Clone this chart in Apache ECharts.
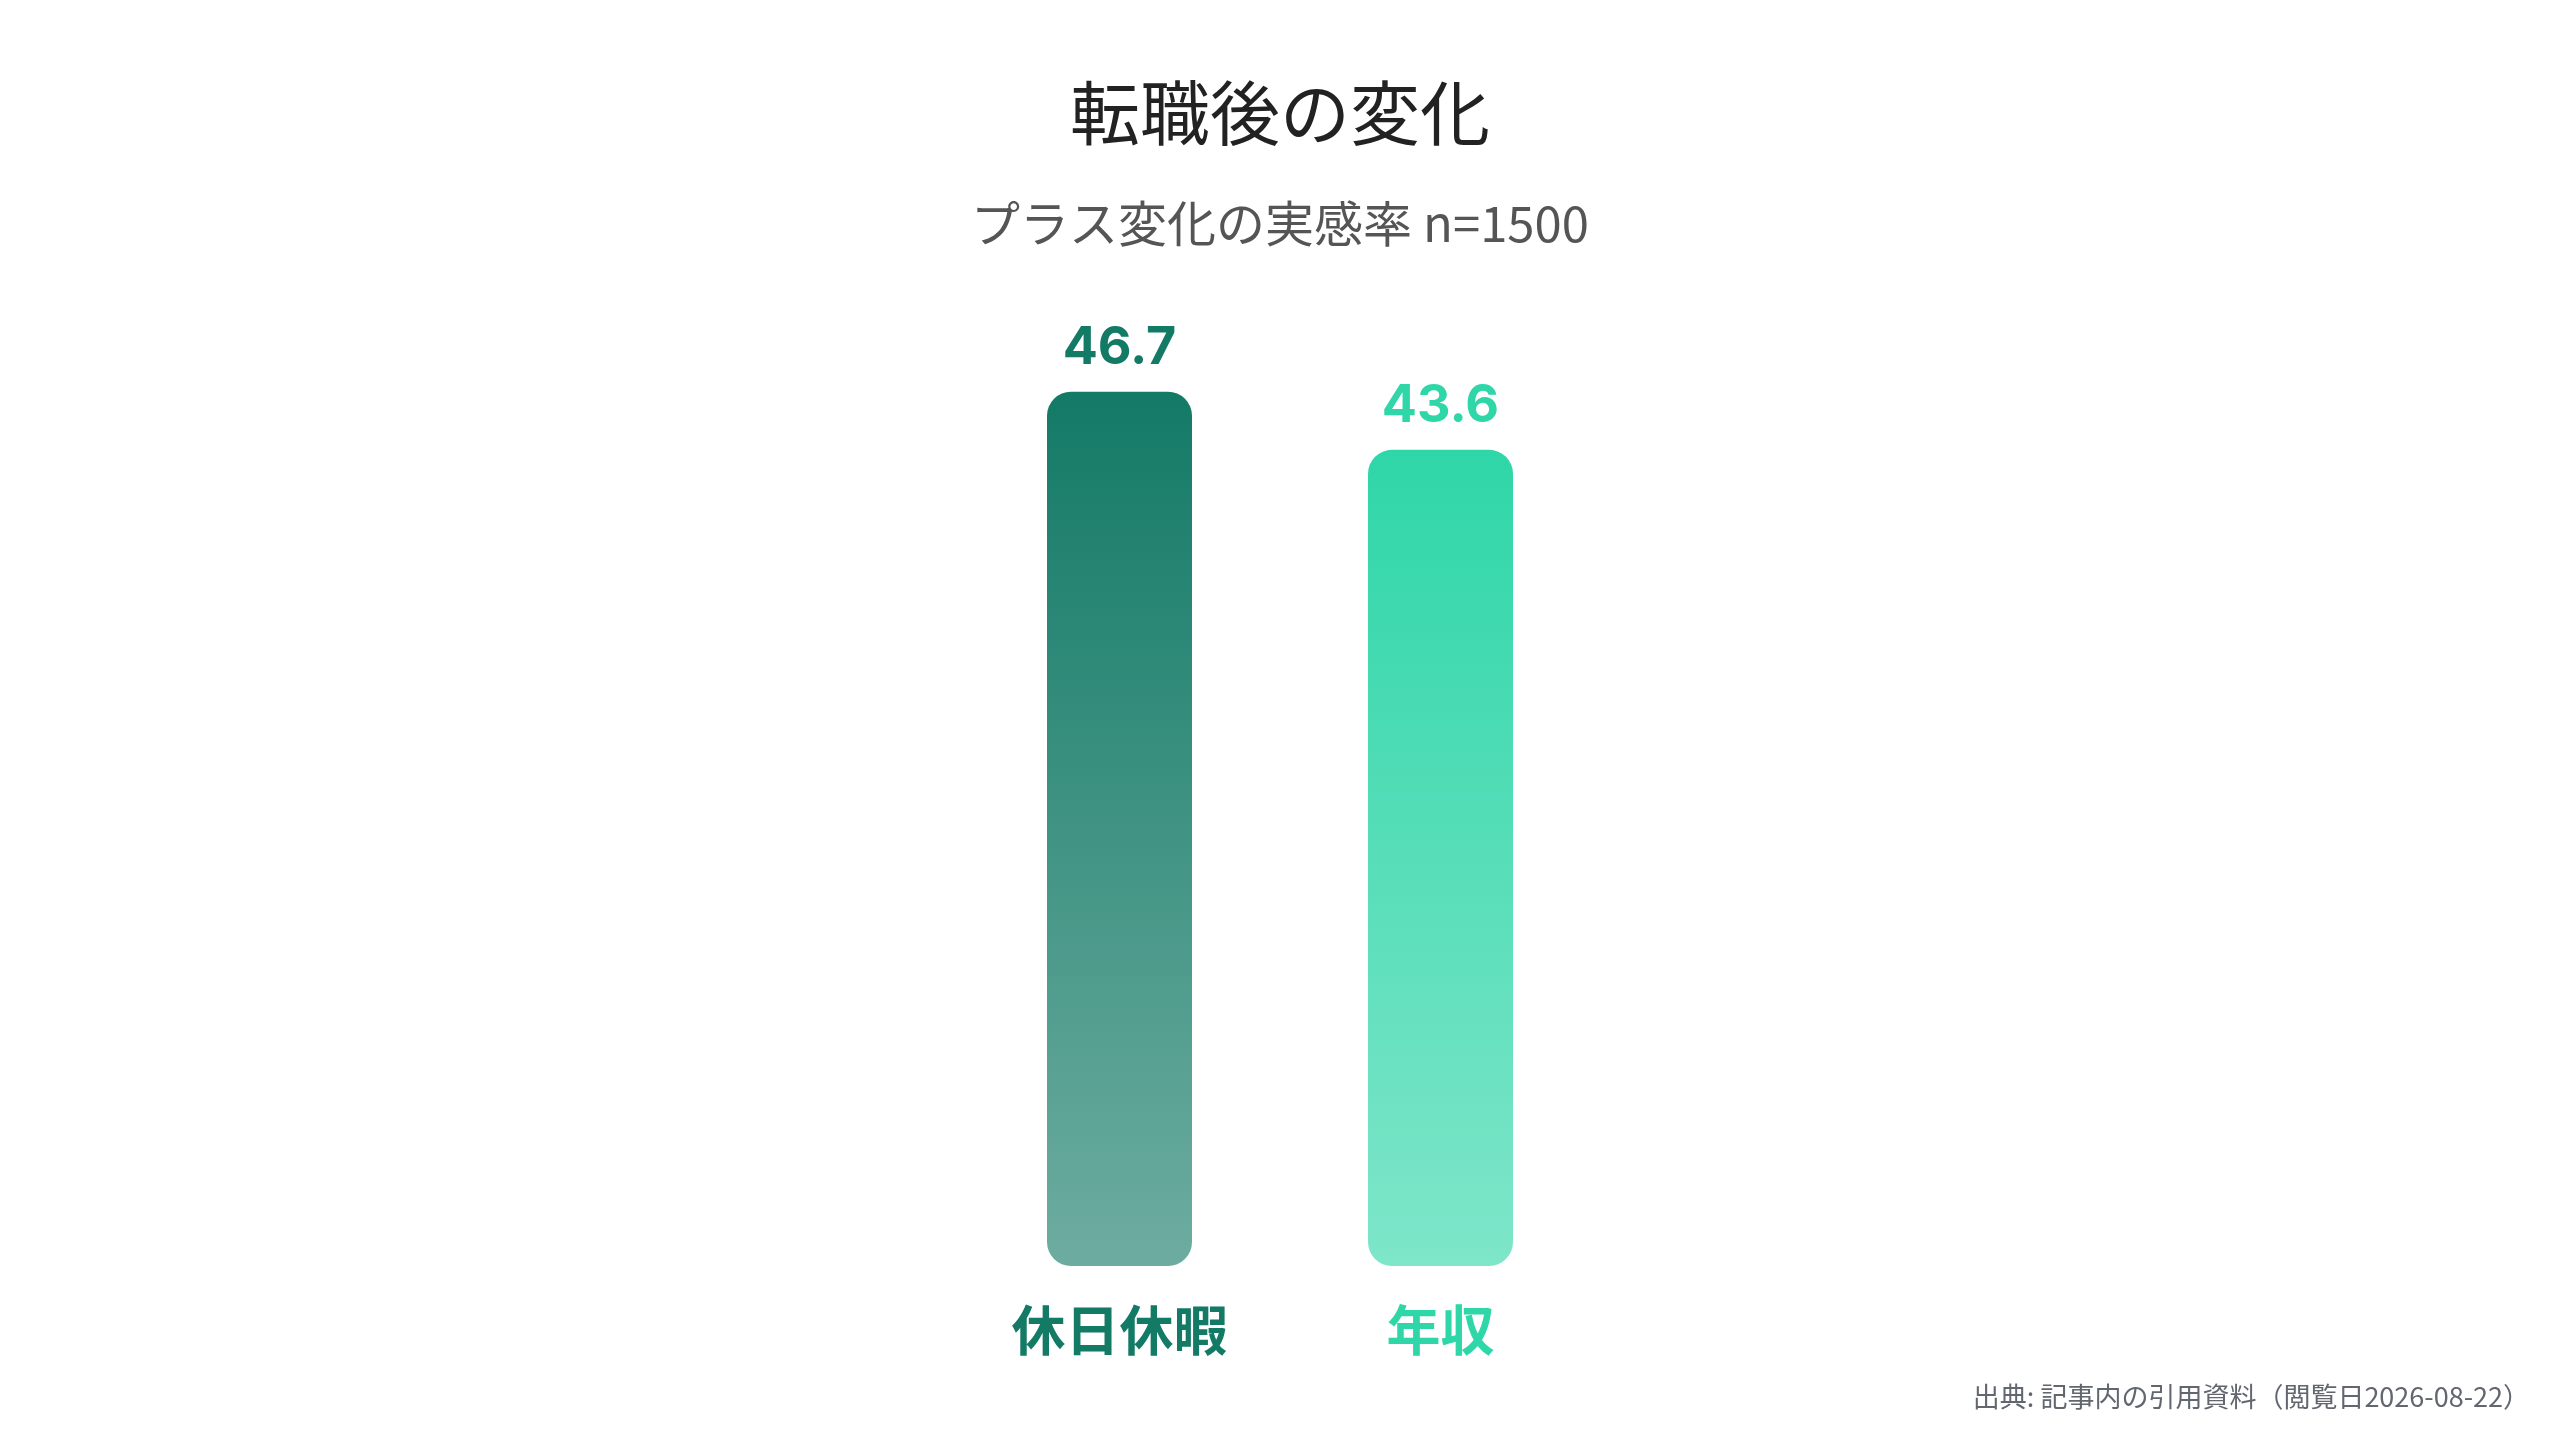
<!DOCTYPE html>
<html><head><meta charset="utf-8">
<script src="https://cdn.jsdelivr.net/npm/echarts@6/dist/echarts.min.js"></script>
<style>html,body{margin:0;padding:0;background:#fff}#c{width:2560px;height:1440px}</style>
</head><body><div id="c"></div>
<script>
const categories = ['休日休暇', '年収'];
const values = [46.7, 43.6];
const barColors = ['#137a66', '#2fd6a8'];
const titleText = '転職後の変化';
const subtitleText = 'プラス変化の実感率 n=1500';
const sourceText = '出典: 記事内の引用資料（閲覧日2026-08-22）';

const font = '"Noto Sans CJK JP", "Noto Sans", sans-serif';
function hexA(h, a) {
  const r = parseInt(h.slice(1,3),16), g = parseInt(h.slice(3,5),16), b = parseInt(h.slice(5,7),16);
  return 'rgba(' + r + ',' + g + ',' + b + ',' + a + ')';
}
const chart = echarts.init(document.getElementById('c'));
chart.setOption({
  backgroundColor: '#ffffff',
  animation: false,
  title: [
    { text: titleText, left: 'center', top: 73, textStyle: { fontFamily: font, fontSize: 70, fontWeight: 'normal', color: '#222222' } },
    { text: subtitleText, left: 'center', top: 194, textStyle: { fontFamily: font, fontSize: 49, fontWeight: 'normal', color: '#555555' } }
  ],
  graphic: [{
    type: 'text', right: 30, top: 1383,
    style: { text: sourceText, font: '27px ' + font, fill: '#62666e' }
  }],
  grid: { left: 959, right: 959, top: 330, bottom: 174 },
  xAxis: {
    type: 'category', data: categories,
    axisLine: { show: false }, axisTick: { show: false },
    axisLabel: {
      margin: 37, fontFamily: font, fontSize: 54, fontWeight: 'bold',
      color: function (v, i) { return barColors[i]; }
    }
  },
  yAxis: { type: 'value', min: 0, max: 50, show: false, splitLine: { show: false } },
  series: [{
    type: 'bar', barWidth: 145,
    data: values.map(function (v, i) {
      return {
        value: v,
        itemStyle: {
          borderRadius: 24,
          color: new echarts.graphic.LinearGradient(0, 0, 0, 1, [
            { offset: 0, color: hexA(barColors[i], 1) },
            { offset: 1, color: hexA(barColors[i], 0.62) }
          ])
        },
        label: { color: barColors[i] }
      };
    }),
    label: {
      show: true, position: 'top', distance: 17,
      fontFamily: '"Inter", "Noto Sans", sans-serif', fontSize: 52, fontWeight: 'bold',
      formatter: function (p) { return p.value.toFixed(1); }
    }
  }]
});
</script></body></html>
